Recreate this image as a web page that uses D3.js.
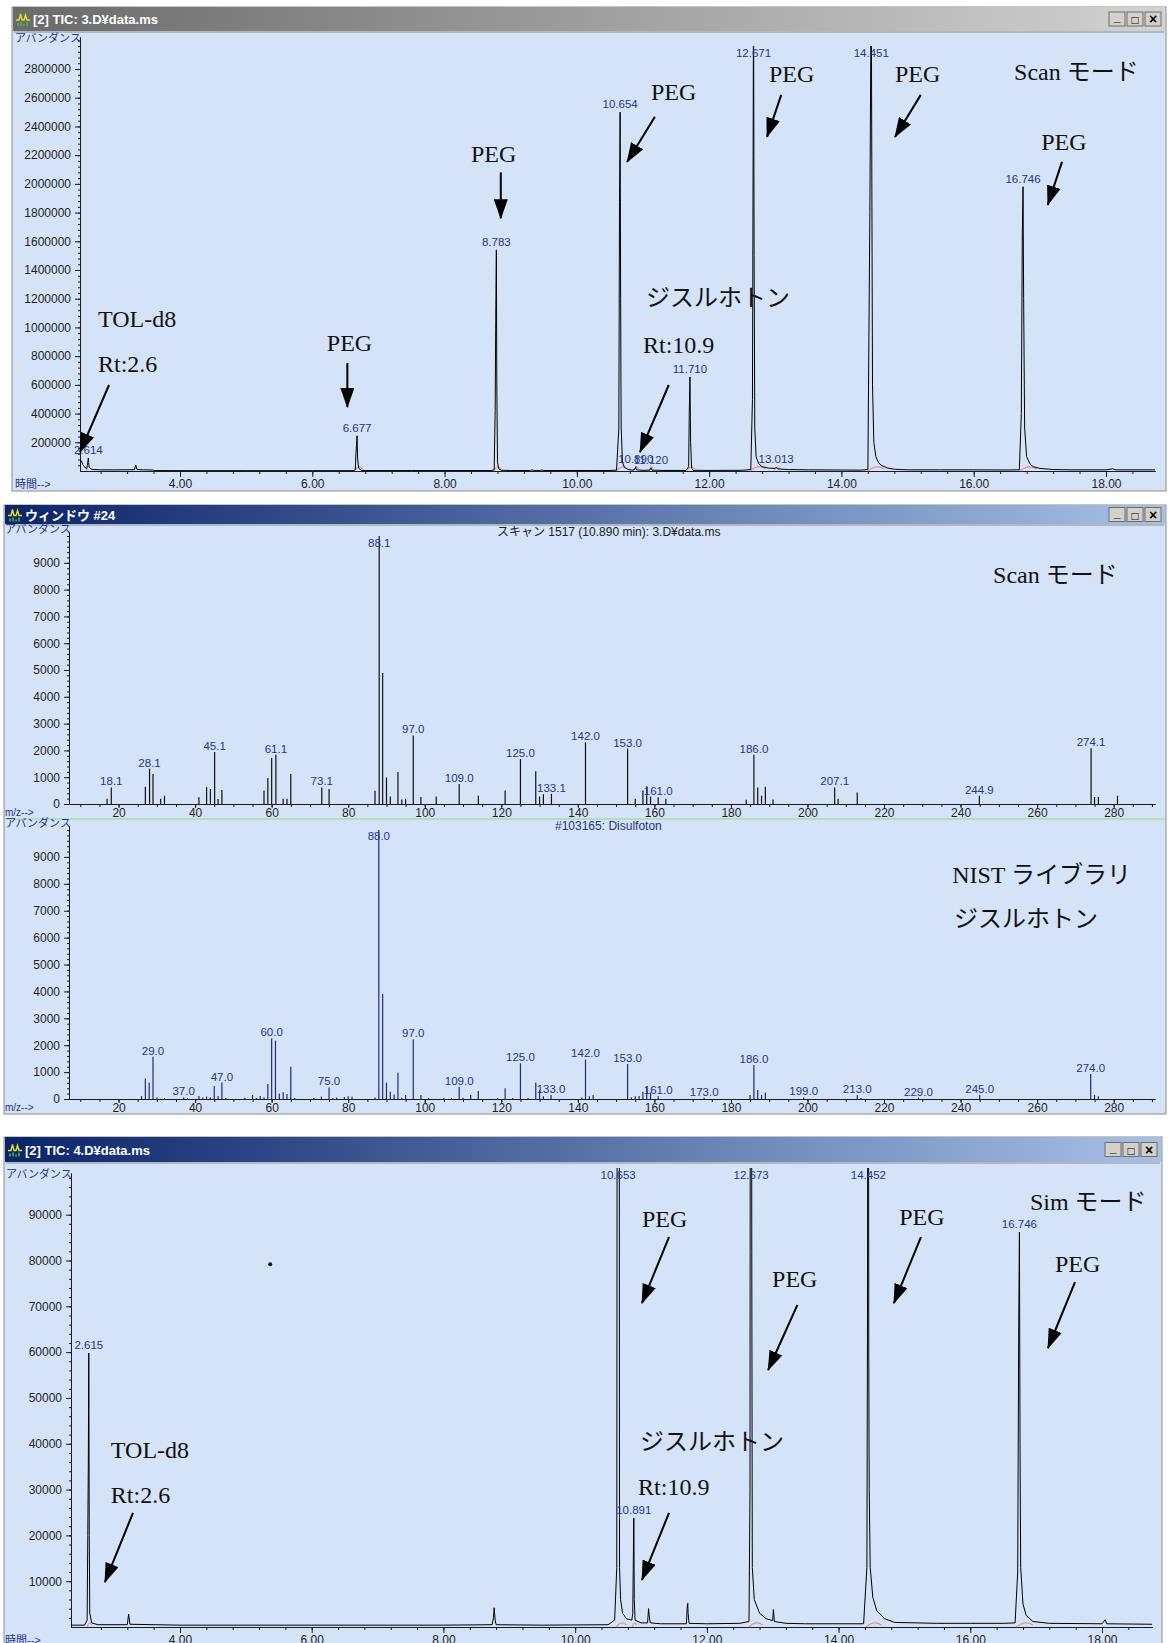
<!DOCTYPE html>
<html lang='ja'>
<head>
    <title>TIC / マススペクトル</title>
    <meta charset='UTF-8'>
    <script src='https://d3js.org/d3.v7.min.js'></script>
    <style>
      body { margin: 0; background: #fff; }
      svg { display: block; }
    </style>
</head>
<body>
<svg id='chart' width='1169' height='1643'></svg>
<script>
// ---------- data ----------

// TIC 3.D (scan mode): [retention time (min), abundance]
const tic3Trace = [
  [2.488, 80000], [2.51, 70000], [2.53, 45000], [2.56, 25000], [2.59, 18000], [2.60, 40000], [2.614, 90000],
  [2.625, 30000], [2.65, 14000], [2.7, 10000], [2.8, 8000], [3.0, 8000], [3.2, 8500], [3.31, 9000],
  [3.33, 42000], [3.35, 10000], [3.45, 8000], [3.58, 7000], [3.62, 3000], [4.0, 2500], [5.0, 2500],
  [6.0, 2500], [6.62, 2500], [6.65, 8000], [6.66, 120000], [6.668, 180000], [6.677, 245000], [6.685, 90000],
  [6.70, 20000], [6.74, 6000], [6.8, 3000], [7.5, 3000], [8.70, 3000], [8.75, 8000], [8.765, 420000],
  [8.775, 1150000], [8.783, 1540000], [8.79, 600000], [8.80, 60000], [8.82, 15000], [8.86, 5000],
  [9.0, 3500], [9.30, 3500], [9.32, 9000], [9.34, 3500], [9.45, 3500], [9.47, 8000], [9.49, 3500],
  [10.50, 3500], [10.60, 6000], [10.635, 300000], [10.645, 1870000], [10.654, 2500000], [10.662, 1200000],
  [10.67, 300000], [10.69, 60000], [10.72, 25000], [10.78, 10000], [10.85, 6000], [10.88, 15000],
  [10.89, 30000], [10.90, 8000], [11.0, 5000], [11.10, 6000], [11.12, 22000], [11.135, 6000], [11.3, 4000],
  [11.65, 4000], [11.69, 30000], [11.70, 425000], [11.71, 655000], [11.72, 200000], [11.735, 20000],
  [11.76, 5000], [12.0, 4000], [12.5, 5000], [12.63, 10000], [12.655, 500000], [12.665, 2190000],
  [12.671, 3300000], [12.68, 1500000], [12.69, 300000], [12.71, 100000], [12.75, 50000], [12.8, 30000],
  [12.9, 20000], [13.0, 18000], [13.013, 25000], [13.03, 15000], [13.2, 10000], [13.5, 8000], [14.3, 6000],
  [14.40, 10000], [14.43, 1800000], [14.451, 3500000], [14.46, 2000000], [14.47, 600000], [14.49, 200000],
  [14.52, 100000], [14.56, 60000], [14.6, 40000], [14.7, 20000], [14.8, 12000], [15.0, 8000], [15.5, 8000],
  [16.0, 8000], [16.5, 7000], [16.69, 8000], [16.72, 400000], [16.735, 1658000], [16.746, 1980000],
  [16.755, 1200000], [16.77, 300000], [16.8, 100000], [16.85, 50000], [16.9, 30000], [17.0, 18000],
  [17.2, 10000], [17.5, 8000], [18.0, 8000], [18.1, 15000], [18.15, 8000], [18.741, 8000]
]
// labelled peaks: [time, apex abundance]
const tic3Peaks = [
  [2.614, 90000], [6.677, 245000], [8.783, 1540000], [10.654, 2500000], [10.890, 30000], [11.120, 22000],
  [11.710, 655000], [12.671, 3300000], [13.013, 25000], [14.451, 3500000], [16.746, 1980000]
]
// integration windows (start, end) drawn in pink
const tic3Integration = [
  [2.58, 2.66], [6.64, 6.76], [8.74, 8.86], [10.60, 10.76], [10.86, 10.93], [11.09, 11.16],
  [11.66, 11.78], [12.62, 12.85], [12.98, 13.07], [14.40, 14.65], [16.70, 16.95]
]

// TIC 4.D (SIM mode)
const tic4Trace = [
  [2.345, 400], [2.55, 400], [2.59, 1500], [2.60, 20000], [2.608, 35400], [2.615, 59800], [2.622, 20000],
  [2.63, 3000], [2.66, 900], [2.75, 500], [3.2, 500], [3.22, 2800], [3.24, 600], [4.0, 400], [6.0, 400],
  [8.0, 400], [8.74, 500], [8.76, 2000], [8.77, 4200], [8.785, 1500], [8.80, 500], [9.5, 400],
  [10.50, 500], [10.60, 1500], [10.632, 13000], [10.642, 200000], [10.653, 230000], [10.667, 200000],
  [10.674, 13000], [10.69, 6000], [10.72, 3000], [10.78, 1800], [10.86, 1500], [10.875, 3000],
  [10.883, 14200], [10.891, 23800], [10.898, 6000], [10.91, 1500], [11.0, 900], [11.10, 900],
  [11.115, 4000], [11.125, 2500], [11.14, 900], [11.3, 700], [11.69, 700], [11.70, 4000], [11.71, 5200],
  [11.715, 3000], [11.73, 800], [12.0, 700], [12.5, 800], [12.64, 1200], [12.655, 30000], [12.662, 200000],
  [12.673, 230000], [12.682, 82000], [12.69, 13000], [12.72, 6000], [12.8, 3000], [12.9, 1800],
  [13.0, 1400], [13.01, 3800], [13.025, 1200], [13.2, 800], [13.5, 700], [14.38, 700], [14.43, 13000],
  [14.44, 74000], [14.445, 220000], [14.452, 230000], [14.458, 60000], [14.465, 30000], [14.48, 13000],
  [14.52, 6500], [14.58, 3500], [14.7, 1800], [14.85, 1000], [15.5, 800], [16.0, 800], [16.5, 800],
  [16.68, 900], [16.72, 12000], [16.735, 65300], [16.746, 86200], [16.755, 40000], [16.765, 13000],
  [16.8, 5000], [16.85, 2500], [16.95, 1200], [17.2, 800], [18.0, 700], [18.05, 1600], [18.07, 700],
  [18.759, 600]
]
const tic4Peaks = [
  [2.615, 59800], [10.653, 230000], [10.891, 23800], [12.673, 230000], [14.452, 230000], [16.746, 86200]
]
const tic4Integration = [
  [2.59, 2.66], [10.62, 10.78], [10.87, 10.93], [12.64, 12.85], [14.42, 14.65], [16.70, 16.95]
]
const tic4Stray = [[5.37, 79200]]

const ticTimeTicks = [4, 6, 8, 10, 12, 14, 16, 18]
const tic3AbundTicks = [200000, 400000, 600000, 800000, 1000000, 1200000, 1400000,
  1600000, 1800000, 2000000, 2200000, 2400000, 2600000, 2800000]
const tic4AbundTicks = [10000, 20000, 30000, 40000, 50000, 60000, 70000, 80000, 90000]

// scan 1517 (10.890 min) spectrum: [m/z, abundance]
const scanSpectrum = [
  [17, 200], [18.1, 620], [27, 640], [28.1, 1320], [29, 1120], [31, 200], [32, 310], [41, 250], [43, 630],
  [44, 560], [45.1, 1940], [46, 190], [47, 520], [58, 500], [59, 970], [60, 1720], [61.1, 1840], [63, 200],
  [64, 200], [65, 1120], [73.1, 620], [75, 560], [87, 490], [88.1, 10000], [89, 4890], [90, 990], [91, 280],
  [93, 1190], [94, 170], [95, 200], [97.0, 2560], [99, 260], [103, 280], [109.0, 750], [114, 310], [121, 500],
  [125.0, 1680], [129, 1220], [130, 280], [131, 360], [133.1, 380], [142.0, 2300], [153.0, 2060], [155, 200],
  [157, 500], [158, 660], [159, 280], [161.0, 250], [163, 200], [184, 160], [186.0, 1840], [187, 620],
  [188, 310], [189, 640], [191, 170], [207.1, 620], [208, 200], [213, 430], [244.9, 310], [274.1, 2080],
  [275, 260], [276, 260], [281, 310]
]
const scanLabels = [18.1, 28.1, 45.1, 61.1, 73.1, 88.1, 97.0, 109.0, 125.0, 133.1, 142.0, 153.0,
  161.0, 186.0, 207.1, 244.9, 274.1]

// NIST library spectrum #103165 Disulfoton
const nistSpectrum = [
  [26, 110], [27, 760], [28, 610], [29, 1570], [30, 60], [32, 40], [37, 60], [38, 40], [41, 110], [42, 60],
  [43, 90], [44, 60], [45, 480], [46, 110], [47, 610], [48, 40], [53, 50], [55, 150], [56, 40], [57, 110],
  [58, 60], [59, 560], [60, 2250], [61, 2170], [62, 200], [63, 250], [64, 190], [65, 1200], [66, 40],
  [71, 40], [73, 90], [75, 430], [76, 40], [77, 60], [79, 70], [80, 100], [81, 80], [87, 60], [88, 10000],
  [89, 3900], [90, 610], [91, 270], [92, 170], [93, 980], [94, 50], [95, 150], [97, 2220], [99, 150],
  [101, 40], [105, 40], [107, 40], [109, 460], [110, 50], [112, 150], [114, 300], [119, 40], [121, 400],
  [123, 40], [125, 1330], [127, 40], [129, 610], [130, 330], [131, 100], [133, 150], [141, 60], [142, 1470],
  [143, 100], [144, 150], [153, 1300], [154, 60], [155, 100], [156, 110], [157, 270], [158, 460], [159, 240],
  [161, 100], [173, 50], [185, 150], [186, 1260], [187, 330], [188, 150], [189, 240], [199, 60], [213, 150],
  [214, 40], [229, 50], [245, 150], [274, 930], [275, 150], [276, 100]
]
const nistLabels = [29, 37, 47, 60, 75, 88, 97, 109, 125, 133, 142, 153, 161, 173, 186, 199, 213, 229, 245, 274]

const mzTicks = [20, 40, 60, 80, 100, 120, 140, 160, 180, 200, 220, 240, 260, 280]
const spectrumTicks = [0, 1000, 2000, 3000, 4000, 5000, 6000, 7000, 8000, 9000]

// hand-written notes: [text, x (data), y (data)] and arrows: [x from, y from, x to, y to]
const tic3Notes = [
  ['PEG', 8.40, 2150000], ['PEG', 6.22, 836000], ['TOL-d8', 2.76, 1000000], ['Rt:2.6', 2.76, 690000],
  ['PEG', 11.12, 2585000], ['PEG', 12.905, 2711000], ['PEG', 14.81, 2711000], ['Scan モード', 16.61, 2725000],
  ['PEG', 17.02, 2237000], ['ジスルホトン', 11.045, 1150000], ['Rt:10.9', 11.0, 822000]
]
const tic3Arrows = [
  [8.85, 2080000, 8.85, 1760000], [6.53, 752000, 6.53, 446000], [2.927, 599000, 2.488, 132000],
  [11.18, 2467000, 10.76, 2153000], [13.09, 2620000, 12.875, 2327000], [15.20, 2620000, 14.81, 2327000],
  [17.335, 2153000, 17.12, 1854000], [11.39, 599000, 10.955, 132000]
]
const tic4Notes = [
  ['PEG', 11.015, 87300], ['PEG', 12.99, 74200], ['PEG', 14.92, 87800], ['Sim モード', 16.905, 91000],
  ['PEG', 17.285, 77500], ['TOL-d8', 2.95, 36900], ['Rt:2.6', 2.95, 27100],
  ['ジスルホトン', 10.985, 38600], ['Rt:10.9', 10.955, 28800]
]
const tic4Arrows = [
  [11.425, 85100, 11.015, 70700], [13.375, 70300, 12.93, 56100], [15.25, 85100, 14.84, 70700],
  [17.59, 75300, 17.18, 60900], [3.286, 24900, 2.86, 9800], [11.425, 24900, 11.015, 10300]
]
const scanNotes = [['Scan モード', 248.5, 8246]]
const nistNotes = [['NIST ライブラリ', 237.8, 8030], ['ジスルホトン', 238.3, 6394]]

// ---------- drawing ----------
const NUM_FONT = "'Liberation Sans', Arial, sans-serif"
const UI_FONT = "'Liberation Sans', 'Noto Sans CJK JP', sans-serif"
const NOTE_FONT = "'Liberation Serif', 'Noto Sans CJK JP', serif"
const LABEL_BLUE = '#27338c'
const PLOT_BG = '#d4e3f7'

const svg = d3.select('#chart')
const defs = svg.append('defs')

function titleGradient(id, c0, c1) {
  const lg = defs.append('linearGradient').attr('id', id)
  lg.append('stop').attr('offset', '0%').attr('stop-color', c0)
  lg.append('stop').attr('offset', '100%').attr('stop-color', c1)
}
titleGradient('activeTitle', '#0a246a', '#a6c0e6')
titleGradient('inactiveTitle', '#6a6a6a', '#d2d2d2')

defs.append('marker')
    .attr('id', 'arrowHead')
    .attr('markerUnits', 'userSpaceOnUse')
    .attr('viewBox', '0 0 20 14')
    .attr('refX', 19).attr('refY', 7)
    .attr('markerWidth', 20).attr('markerHeight', 14)
    .attr('orient', 'auto')
  .append('path')
    .attr('d', 'M0,0 L20,7 L0,14 z')
    .attr('fill', '#000')

// window chrome: frame, title bar, icon, buttons
function drawWindow(w) {
  const g = svg.append('g')
  g.append('rect')
      .attr('x', w.left).attr('y', w.top)
      .attr('width', w.right - w.left).attr('height', w.bottom - w.top)
      .attr('fill', PLOT_BG).attr('stroke', '#8c8c8c')
  g.append('rect')
      .attr('x', w.left + 1).attr('y', w.top)
      .attr('width', w.right - w.left - 2).attr('height', w.titleH)
      .attr('fill', w.active ? 'url(#activeTitle)' : 'url(#inactiveTitle)')
  g.append('line')
      .attr('x1', w.left + 2).attr('x2', w.right - 2)
      .attr('y1', w.top + w.titleH + 1).attr('y2', w.top + w.titleH + 1)
      .attr('stroke', '#8c8c8c')

  // little chromatogram icon
  const ic = g.append('g').attr('transform', `translate(${w.left + 4},${w.top + w.titleH / 2 - 7})`)
  ic.append('path').attr('d', 'M0,8 L3,8 L4.5,2 L6,8 L8,8 L9.5,3 L11,8 L14,8')
      .attr('fill', 'none').attr('stroke', '#e4e020').attr('stroke-width', 1.4)
  ic.append('path').attr('d', 'M2,14 V11 M5,14 V10 M8,14 V12 M11,14 V10')
      .attr('stroke', '#35c040').attr('stroke-width', 1.6)

  g.append('text')
      .attr('x', w.left + 21).attr('y', w.top + w.titleH / 2 + 5)
      .attr('font-family', UI_FONT).attr('font-size', 13).attr('font-weight', 'bold')
      .attr('fill', '#fff')
      .text(w.title)

  const glyphs = ['_', '□', '×']
  glyphs.forEach((ch, i) => {
    const bx = w.right - 57 + i * 18
    const by = w.top + (w.titleH - 14) / 2
    g.append('rect').attr('x', bx).attr('y', by).attr('width', 16).attr('height', 14)
        .attr('fill', '#d4d0c8').attr('stroke', '#6e6e6e')
    g.append('text').attr('x', bx + 8).attr('y', by + (ch === '_' ? 9 : 12))
        .attr('text-anchor', 'middle').attr('font-family', NUM_FONT)
        .attr('font-size', ch === '×' ? 14 : 12).attr('font-weight', 'bold').attr('fill', '#000')
        .text(ch)
  })
}

function styleAxis(sel, size) {
  sel.attr('font-family', NUM_FONT).attr('font-size', size)
  sel.selectAll('path, line').attr('stroke', '#1c1c1c')
  sel.selectAll('text').attr('fill', '#1e1e1e')
}

function drawNotes(g, notes, arrows, x, y) {
  g.selectAll(null).data(notes).join('text')
      .attr('x', d => x(d[1])).attr('y', d => y(d[2]))
      .attr('font-family', NOTE_FONT).attr('font-size', 24).attr('fill', '#111')
      .text(d => d[0])
  g.selectAll(null).data(arrows).join('line')
      .attr('x1', d => x(d[0])).attr('y1', d => y(d[1]))
      .attr('x2', d => x(d[2])).attr('y2', d => y(d[3]))
      .attr('stroke', '#000').attr('stroke-width', 2)
      .attr('marker-end', 'url(#arrowHead)')
}

// total ion chromatogram panel
function drawTic(c) {
  const g = svg.append('g')
  const x = d3.scaleLinear().domain(c.tDomain).range([c.x0, c.x1])
  const y = d3.scaleLinear().domain([0, c.vMax]).range([c.yBase, c.yTop])

  g.append('text').attr('x', c.abX).attr('y', c.abY)
      .attr('font-family', UI_FONT).attr('font-size', 11).attr('fill', LABEL_BLUE)
      .text('アバンダンス')
  g.append('text').attr('x', c.timeX).attr('y', c.yBase + 17)
      .attr('font-family', UI_FONT).attr('font-size', 11).attr('fill', LABEL_BLUE)
      .text('時間-->')

  g.append('g').attr('transform', `translate(${c.x0},0)`)
      .call(d3.axisLeft(y).tickValues(d3.range(c.minorY, c.vMax, c.minorY)).tickSize(2).tickFormat('').tickSizeOuter(0))
      .call(styleAxis, 12)
  g.append('g').attr('transform', `translate(${c.x0},0)`)
      .call(d3.axisLeft(y).tickValues(c.yTicks).tickSize(5).tickPadding(4).tickFormat(d3.format('d')).tickSizeOuter(0))
      .call(styleAxis, 12)
  g.append('g').attr('transform', `translate(0,${c.yBase})`)
      .call(d3.axisBottom(x).tickValues(d3.range(2.8, c.tDomain[1], 0.4)).tickSize(3).tickFormat('').tickSizeOuter(0))
      .call(styleAxis, 12)
  g.append('g').attr('transform', `translate(0,${c.yBase})`)
      .call(d3.axisBottom(x).tickValues(ticTimeTicks).tickSize(6).tickPadding(2).tickFormat(d3.format('.2f')).tickSizeOuter(0))
      .call(styleAxis, 12)

  const clipId = c.id + 'Clip'
  defs.append('clipPath').attr('id', clipId)
    .append('rect').attr('x', c.x0).attr('y', c.clipTop)
      .attr('width', c.x1 - c.x0).attr('height', c.yBase - c.clipTop + 2)

  // pink integration marks
  g.selectAll(null).data(c.integration).join('path')
      .attr('d', d => `M${x(d[0])},${c.yBase} Q${x((d[0] + d[1]) / 2)},${c.yBase - 7} ${x(d[1])},${c.yBase - 2}`)
      .attr('fill', 'none').attr('stroke', '#e8909c').attr('stroke-width', 1.2)

  const line = d3.line().x(d => x(d[0])).y(d => y(d[1]))
  g.append('path').datum(c.trace)
      .attr('clip-path', `url(#${clipId})`)
      .attr('d', line)
      .attr('fill', 'none').attr('stroke', '#000').attr('stroke-width', 1)

  g.selectAll(null).data(c.peaks).join('text')
      .attr('x', d => x(d[0])).attr('y', d => Math.max(y(d[1]) - 4, c.labelTop))
      .attr('text-anchor', 'middle')
      .attr('font-family', NUM_FONT).attr('font-size', 11.5).attr('fill', LABEL_BLUE)
      .text(d => d[0].toFixed(3))

  if (c.stray) {
    g.selectAll(null).data(c.stray).join('circle')
        .attr('cx', d => x(d[0])).attr('cy', d => y(d[1])).attr('r', 2).attr('fill', '#111')
  }
  drawNotes(g, c.notes, c.arrows, x, y)
}

// mass spectrum (stick plot)
function drawSpectrum(c) {
  const g = svg.append('g')
  const x = d3.scaleLinear().domain([7.05, 290.8]).range([69, 1155])
  const y = d3.scaleLinear().domain([0, 10150]).range([c.yBase, c.yTop])

  g.append('text').attr('x', 5).attr('y', c.yTop + 1)
      .attr('font-family', UI_FONT).attr('font-size', 11).attr('fill', LABEL_BLUE)
      .text('アバンダンス')
  g.append('text').attr('x', 5).attr('y', c.yBase + 12)
      .attr('font-family', UI_FONT).attr('font-size', 10).attr('fill', LABEL_BLUE)
      .text('m/z-->')
  g.append('text').attr('x', c.headX).attr('y', c.yTop + 4)
      .attr('font-family', UI_FONT).attr('font-size', 12).attr('fill', c.headColor)
      .text(c.head)

  g.append('g').attr('transform', 'translate(69,0)')
      .call(d3.axisLeft(y).tickValues(d3.range(200, 10150, 200)).tickSize(2).tickFormat('').tickSizeOuter(0))
      .call(styleAxis, 12)
  g.append('g').attr('transform', 'translate(69,0)')
      .call(d3.axisLeft(y).tickValues(spectrumTicks).tickSize(5).tickPadding(4).tickFormat(d3.format('d')).tickSizeOuter(0))
      .call(styleAxis, 12)
  g.append('g').attr('transform', `translate(0,${c.yBase})`)
      .call(d3.axisBottom(x).tickValues(d3.range(10, 291, 5)).tickSize(3).tickFormat('').tickSizeOuter(0))
      .call(styleAxis, 12)
  g.append('g').attr('transform', `translate(0,${c.yBase})`)
      .call(d3.axisBottom(x).tickValues(mzTicks).tickSize(4).tickPadding(0).tickFormat(d3.format('d')).tickSizeOuter(0))
      .call(styleAxis, 12)

  g.selectAll(null).data(c.sticks).join('line')
      .attr('x1', d => x(d[0])).attr('x2', d => x(d[0]))
      .attr('y1', y(0)).attr('y2', d => y(d[1]))
      .attr('stroke', c.stickColor).attr('stroke-width', 1.2)

  const labelled = c.sticks.filter(d => c.labels.some(l => Math.round(l * 10) === Math.round(d[0] * 10)))
  g.selectAll(null).data(labelled).join('text')
      .attr('x', d => x(d[0])).attr('y', d => Math.max(y(d[1]) - 2, c.labelTop))
      .attr('text-anchor', 'middle')
      .attr('font-family', NUM_FONT).attr('font-size', 11.5).attr('fill', LABEL_BLUE)
      .text(d => d[0].toFixed(1))

  drawNotes(g, c.notes, [], x, y)
}

drawWindow({ left: 12, top: 7, right: 1166, bottom: 491, titleH: 24, active: false, title: '[2] TIC: 3.D¥data.ms' })
drawWindow({ left: 4, top: 505, right: 1166, bottom: 1114, titleH: 19, active: true, title: 'ウィンドウ #24' })
drawWindow({ left: 4, top: 1137, right: 1162, bottom: 1660, titleH: 25, active: true, title: '[2] TIC: 4.D¥data.ms' })

drawTic({
  id: 'tic3', trace: tic3Trace, peaks: tic3Peaks, integration: tic3Integration,
  notes: tic3Notes, arrows: tic3Arrows, yTicks: tic3AbundTicks,
  tDomain: [2.488, 18.741], x0: 80, x1: 1155, vMax: 3023000, yBase: 471, yTop: 37,
  minorY: 40000, clipTop: 46, labelTop: 57, abX: 15, abY: 42, timeX: 15
})

drawSpectrum({
  sticks: scanSpectrum, labels: scanLabels, notes: scanNotes, yBase: 804, yTop: 532, labelTop: 547,
  stickColor: '#111', head: 'スキャン 1517 (10.890 min): 3.D¥data.ms', headX: 497, headColor: '#222'
})
svg.append('line').attr('x1', 5).attr('x2', 1165).attr('y1', 819).attr('y2', 819)
    .attr('stroke', '#a4e0a4').attr('stroke-width', 1.5)
drawSpectrum({
  sticks: nistSpectrum, labels: nistLabels, notes: nistNotes, yBase: 1099, yTop: 826, labelTop: 840,
  stickColor: '#1f2a7c', head: '#103165: Disulfoton', headX: 555, headColor: LABEL_BLUE
})

drawTic({
  id: 'tic4', trace: tic4Trace, peaks: tic4Peaks, integration: tic4Integration, stray: tic4Stray,
  notes: tic4Notes, arrows: tic4Arrows, yTicks: tic4AbundTicks,
  tDomain: [2.345, 18.759], x0: 71, x1: 1152, vMax: 99100, yBase: 1627, yTop: 1173,
  minorY: 2000, clipTop: 1168, labelTop: 1179, abX: 6, abY: 1178, timeX: 5
})
</script>
</body>
</html>
